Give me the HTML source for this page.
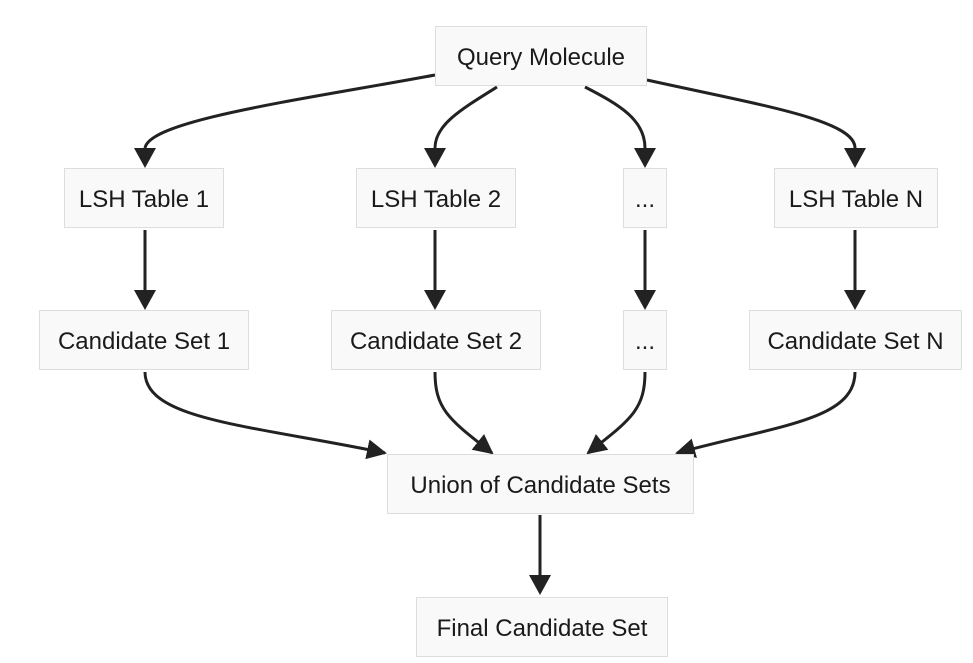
<!DOCTYPE html>
<html><head><style>
body{margin:0;background:#fff;width:973px;height:663px;overflow:hidden;position:relative;font-family:"Liberation Sans",Arial,sans-serif}
.n{position:absolute;box-sizing:border-box;background:#f9f9f9;border:1px solid #ddd;display:flex;align-items:center;justify-content:center;font-size:24px;color:#1a1a1a;height:60px;padding-top:4px}
svg{position:absolute;left:0;top:0}
</style></head><body>
<svg width="973" height="663">
<defs><marker id="a" viewBox="0 0 10 10" refX="9" refY="5" markerWidth="20" markerHeight="22" markerUnits="userSpaceOnUse" orient="auto"><path d="M0,0L10,5L0,10z" fill="#222"/></marker></defs>
<g fill="none" stroke="#222" stroke-width="3">
<path d="M435,75 C300,100 150,120 145,148"/>
<path d="M497,87 C460,110 435,125 435,148"/>
<path d="M585,87 C620,105 645,120 645,148"/>
<path d="M647,80 C760,105 855,120 855,148"/>
<path d="M145,230 V290"/><path d="M435,230 V290"/><path d="M645,230 V290"/><path d="M855,230 V290"/>
<path d="M145,372 C145,420 250,425 385,453" marker-end="url(#a)"/>
<path d="M435,372 C435,410 450,420 492,453" marker-end="url(#a)"/>
<path d="M645,372 C645,410 630,420 588,453" marker-end="url(#a)"/>
<path d="M855,372 C855,420 780,425 677,453" marker-end="url(#a)"/>
<path d="M540,515 V575"/>
</g>
<g fill="#222">
<path d="M134,148h22l-11,20z"/><path d="M424,148h22l-11,20z"/><path d="M634,148h22l-11,20z"/><path d="M844,148h22l-11,20z"/>
<path d="M134,290h22l-11,20z"/><path d="M424,290h22l-11,20z"/><path d="M634,290h22l-11,20z"/><path d="M844,290h22l-11,20z"/>
<path d="M529,575h22l-11,20z"/>
</g>
</svg>
<div class="n" style="left:435px;top:26px;width:212px">Query Molecule</div>
<div class="n" style="left:64px;top:168px;width:160px">LSH Table 1</div>
<div class="n" style="left:356px;top:168px;width:160px">LSH Table 2</div>
<div class="n" style="left:623px;top:168px;width:44px">...</div>
<div class="n" style="left:774px;top:168px;width:164px">LSH Table N</div>
<div class="n" style="left:39px;top:310px;width:210px">Candidate Set 1</div>
<div class="n" style="left:331px;top:310px;width:210px">Candidate Set 2</div>
<div class="n" style="left:623px;top:310px;width:44px">...</div>
<div class="n" style="left:749px;top:310px;width:213px">Candidate Set N</div>
<div class="n" style="left:387px;top:454px;width:307px">Union of Candidate Sets</div>
<div class="n" style="left:416px;top:597px;width:252px">Final Candidate Set</div>
</body></html>
